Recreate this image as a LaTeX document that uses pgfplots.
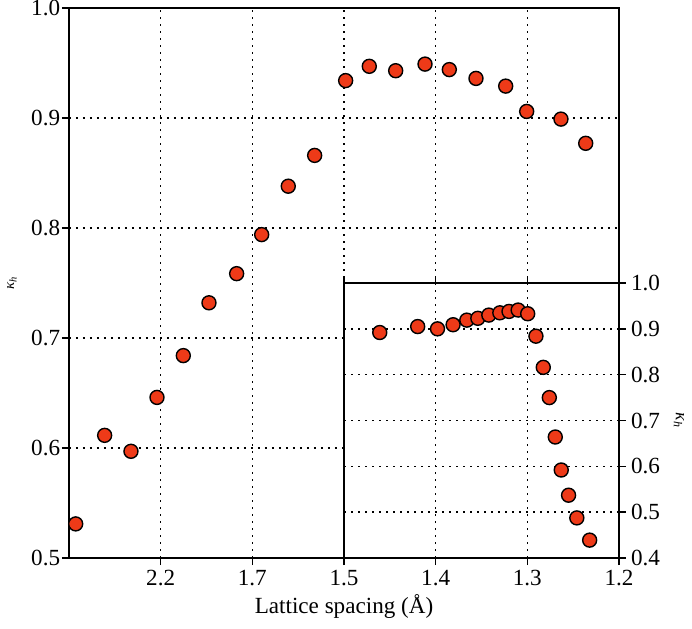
\documentclass[border=0pt]{standalone}
\usepackage{fontspec}
\setmainfont{Liberation Serif}
\usepackage{pgfplots}
\pgfplotsset{compat=1.18}
\definecolor{dotred}{RGB}{238,58,24}

\newcommand{\tl}[1]{\mbox{\fontsize{11.6}{13}\selectfont #1}}

\pgfplotsset{
  kappa/.style={
    scale only axis,
    tick align=outside,
    major tick length=3.5bp,
    grid=major,
    major grid style={black, line width=0.8bp, dash pattern=on 0.8bp off 2.7bp},
    axis line style={line width=0.8bp},
    every tick/.style={black, line width=0.8bp},
    xticklabel style={font=\fontsize{11.6}{13}\selectfont},
    yticklabel style={font=\fontsize{11.6}{13}\selectfont},
    label style={font=\fontsize{11.6}{13}\selectfont},
  },
  dots/.style={only marks, mark=*, mark size=3.5bp,
    mark options={fill=dotred, draw=black, line width=0.7bp}},
}

\begin{document}
\fontsize{11.6}{13}\selectfont
\begin{tikzpicture}[font=\fontsize{11.6}{13}\selectfont]
% main panel: positions 0..6 on an index scale, labelled with the spacing
\begin{axis}[kappa,
  width=275bp, height=275bp,
  xmin=0, xmax=6, ymin=0.5, ymax=1.0,
  xtick={1,2,3,4,5,6},
  xticklabels={\tl{2.2},\tl{1.7},\tl{1.5},\tl{1.4},\tl{1.3},\tl{1.2}},
  ytick={0.5,0.6,0.7,0.8,0.9,1.0},
  yticklabels={\tl{0.5},\tl{0.6},\tl{0.7},\tl{0.8},\tl{0.9},\tl{1.0}},
  xtick pos=bottom, ytick pos=left,
  xticklabel shift=-1.3bp, yticklabel shift=-3.1bp,
  xlabel={Lattice spacing (Å)},
  xlabel style={at={(axis description cs:0.5,0)}, anchor=base, yshift=-27.5bp},
  ylabel={\fontsize{7.5}{8}\selectfont\textit{κ\textsubscript{h}}},
  ylabel style={at={(axis description cs:-0.1036,0.5)}, anchor=center},
]
\addplot[dots] coordinates {
  (0.073,0.531) (0.389,0.6115) (0.676,0.597) (0.960,0.646) (1.247,0.684)
  (1.527,0.732) (1.829,0.7585) (2.102,0.794) (2.392,0.838) (2.680,0.866)
  (3.018,0.934) (3.276,0.947) (3.564,0.943) (3.884,0.949) (4.149,0.944)
  (4.440,0.936) (4.764,0.929) (4.993,0.906) (5.367,0.899) (5.637,0.877)
};
\end{axis}
% inset: linear in lattice spacing
\begin{axis}[kappa,
  at={(137.5bp,0)}, anchor=south west,
  width=137.5bp, height=137.5bp,
  axis background/.style={fill=white},
  x dir=reverse, xmin=1.2, xmax=1.5, ymin=0.4, ymax=1.0,
  xtick={1.2,1.3,1.4,1.5}, xticklabels={},
  ytick={0.4,0.5,0.6,0.7,0.8,0.9,1.0},
  yticklabels={\tl{0.4},\tl{0.5},\tl{0.6},\tl{0.7},\tl{0.8},\tl{0.9},\tl{1.0}},
  xtick pos=top, ytick pos=right, yticklabel pos=right,
  yticklabel shift=-1.5bp,
  ylabel={\fontsize{9}{10}\selectfont\textit{κ\textsubscript{h}}},
  ylabel style={at={(axis description cs:1.218,0.5)}, anchor=center, rotate=180},
]
\addplot[dots] coordinates {
  (1.461,0.892) (1.4196,0.905) (1.398,0.900) (1.381,0.909) (1.366,0.919)
  (1.354,0.923) (1.342,0.930) (1.330,0.935) (1.320,0.938) (1.310,0.941)
  (1.2996,0.933) (1.2906,0.884) (1.2826,0.816) (1.276,0.750) (1.2695,0.664)
  (1.263,0.592) (1.255,0.537) (1.246,0.4875) (1.232,0.439)
};
\end{axis}
\pgfresetboundingbox
\useasboundingbox (-34.5bp,-35.15bp) rectangle (311.5bp,279bp);
\end{tikzpicture}
\end{document}
